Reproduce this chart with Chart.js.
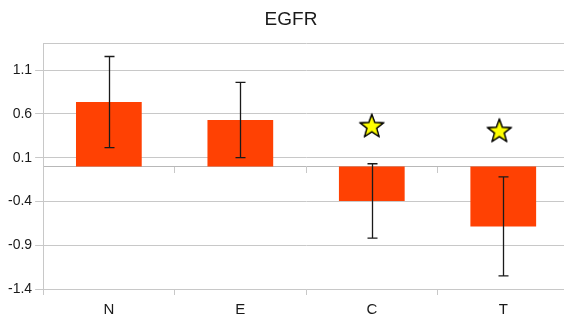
<!DOCTYPE html>
<html>
<head>
<meta charset="utf-8">
<script src="https://cdn.jsdelivr.net/npm/chart.js@4/dist/chart.umd.min.js"></script>
<style>
  html, body { margin: 0; padding: 0; background: #fff; overflow: hidden; }
  #c { display: block; }
</style>
</head>
<body>
<canvas id="c" width="582" height="320" style="width:582px;height:320px"></canvas>
<script>
const categories = ['N', 'E', 'C', 'T'];
const means = [0.735, 0.53, -0.395, -0.685];
const errors = [0.52, 0.43, 0.425, 0.565];
const yTickValues = [-1.4, -0.9, -0.4, 0.1, 0.6, 1.1, 1.4];
const yTickLabels = ['-1.4', '-0.9', '-0.4', '0.1', '0.6', '1.1', ''];
const starX = [2.0, 2.97];
const starY = [0.465, 0.41];

function makeStar() {
  const s = 28, c = document.createElement('canvas');
  c.width = s; c.height = s;
  const g = c.getContext('2d');
  const cx = s / 2, cy = s / 2 + 1, R = 12, r = 5;
  g.beginPath();
  for (let i = 0; i < 10; i++) {
    const rad = i % 2 === 0 ? R : r;
    const a = -Math.PI / 2 + i * Math.PI / 5;
    const x = cx + rad * Math.cos(a), y = cy + rad * Math.sin(a);
    if (i === 0) g.moveTo(x, y); else g.lineTo(x, y);
  }
  g.closePath();
  g.fillStyle = '#ffff00';
  g.fill();
  g.lineWidth = 1.2;
  g.strokeStyle = '#000';
  g.stroke();
  return c;
}
const starImg = makeStar();

const errorBarPlugin = {
  id: 'errorBars',
  afterDatasetsDraw(chart) {
    const meta = chart.getDatasetMeta(0);
    const y = chart.scales.y;
    const ctx = chart.ctx;
    ctx.save();
    ctx.strokeStyle = '#1a1a1a';
    ctx.lineWidth = 1.3;
    meta.data.forEach((bar, i) => {
      const x = Math.round(bar.x) + 0.5;
      const yTop = y.getPixelForValue(means[i] + errors[i]);
      const yBot = y.getPixelForValue(means[i] - errors[i]);
      ctx.beginPath();
      ctx.moveTo(x, yTop); ctx.lineTo(x, yBot);
      ctx.moveTo(x - 5, yTop); ctx.lineTo(x + 5, yTop);
      ctx.moveTo(x - 5, yBot); ctx.lineTo(x + 5, yBot);
      ctx.stroke();
    });
    ctx.restore();
    const sm = chart.getDatasetMeta(1);
    sm.data.forEach(p => p.draw(ctx));
  }
};

const gridColor = '#c8c8c8';

new Chart(document.getElementById('c'), {
  type: 'bar',
  data: {
    labels: categories,
    datasets: [{
      data: means,
      backgroundColor: '#ff4103',
      borderWidth: 0,
      grouped: false,
      barPercentage: 0.5,
      categoryPercentage: 1.0,
      xAxisID: 'x',
      yAxisID: 'y'
    }, {
      type: 'scatter',
      data: starX.map((v, i) => ({ x: v, y: starY[i] })),
      pointStyle: starImg,
      pointRadius: 12,
      xAxisID: 'xs',
      yAxisID: 'y'
    }]
  },
  options: {
    responsive: false,
    maintainAspectRatio: false,
    animation: false,
    devicePixelRatio: 1,
    layout: { padding: { left: 5, right: 5, top: 0, bottom: 1 } },
    plugins: {
      legend: { display: false },
      tooltip: { enabled: false },
      title: {
        display: true,
        text: 'EGFR',
        color: '#1a1a1a',
        font: { family: 'Liberation Sans, Arial, sans-serif', size: 19, weight: 'normal' },
        padding: { top: 8, bottom: 13 }
      }
    },
    scales: {
      x: {
        type: 'category',
        offset: true,
        grid: { offset: true, drawOnChartArea: false, tickLength: 6, color: gridColor },
        border: { display: true, color: gridColor },
        ticks: {
          color: '#1a1a1a',
          padding: 6,
          font: { family: 'Liberation Sans, Arial, sans-serif', size: 15 }
        },
        afterFit(scale) { scale.height = scale.height - 6; }
      },
      x0: {
        type: 'category',
        labels: categories,
        axis: 'x',
        offset: true,
        position: { y: 0 },
        grid: { offset: true, drawOnChartArea: false, tickLength: 6, color: gridColor },
        border: { display: true, color: '#b8b8b8' },
        ticks: { display: false },
        afterFit(scale) { scale.height = 0; }
      },
      xs: {
        type: 'linear',
        display: false,
        offset: false,
        grid: { offset: false },
        min: -0.5,
        max: 3.5
      },
      y: {
        min: -1.4,
        max: 1.4,
        afterBuildTicks(scale) {
          scale.ticks = yTickValues.map(v => ({ value: v }));
        },
        grid: {
          color: gridColor,
          tickLength: 8,
          tickColor: ctx => (ctx.tick && ctx.tick.value === 1.4) ? 'rgba(0,0,0,0)' : gridColor
        },
        border: { display: true, color: gridColor },
        ticks: {
          color: '#1a1a1a',
          padding: 3,
          font: { family: 'Liberation Sans, Arial, sans-serif', size: 14 },
          callback: (v) => {
            const i = yTickValues.indexOf(v);
            return i >= 0 ? yTickLabels[i] : '';
          }
        }
      }
    }
  },
  plugins: [errorBarPlugin]
});
</script>
</body>
</html>
